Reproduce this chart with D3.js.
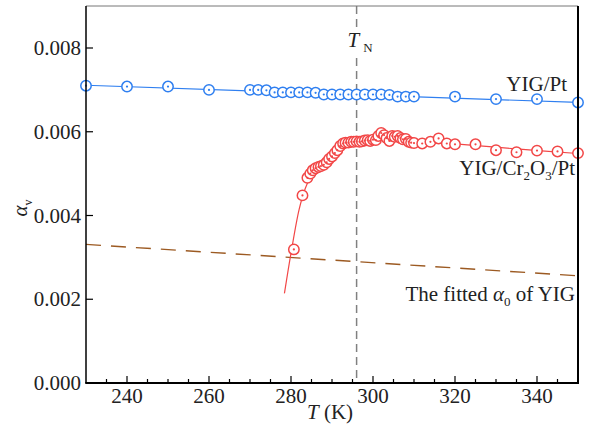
<!DOCTYPE html>
<html><head><meta charset="utf-8">
<script src="https://cdn.jsdelivr.net/npm/d3@7"></script>
<style>body{margin:0;background:#fff}svg{display:block}</style>
</head><body><svg id="c" width="590" height="428" font-family="'Liberation Serif', 'DejaVu Serif', serif"></svg>
<script>
const xTicks = [240, 260, 280, 300, 320, 340];
const xMinor = [235, 245, 250, 255, 265, 270, 275, 285, 290, 295, 305, 310, 315, 325, 330, 335, 345];
const yTicks = [0, 0.002, 0.004, 0.006, 0.008];
const yTickLabels = ["0.000", "0.002", "0.004", "0.006", "0.008"];

const ptT = [230, 240, 250, 260, 270, 272, 274, 276, 278, 280, 282, 284, 286, 288, 290, 292, 294, 296, 298, 300, 302, 304, 306, 308, 310, 320, 330, 340, 350];
const ptA = [0.00710, 0.00708, 0.00708, 0.00700, 0.00700, 0.00700, 0.00699, 0.00694, 0.00694, 0.00694, 0.00694, 0.00694, 0.00693, 0.00689, 0.00689, 0.00689, 0.00689, 0.00689, 0.00689, 0.00689, 0.00689, 0.00688, 0.00684, 0.00684, 0.00684, 0.00684, 0.00678, 0.00678, 0.00670];
const ptFitT = [230, 350];
const ptFitA = [0.00711, 0.00670];

const crT = [280.7, 282.8, 284, 284.7, 285.3, 286, 286.7, 287.3, 288, 288.7, 289.3, 290, 290.7, 291.3, 292, 292.7, 293.3, 294, 294.7, 295.3, 296, 296.7, 297.3, 298, 298.7, 299.3, 300, 300.7, 301.3, 302, 302.7, 303.3, 304, 304.7, 305.3, 306, 306.7, 307.3, 308, 308.7, 309.3, 310, 312, 314, 316, 318, 320, 325, 330, 335, 340, 345, 350];
const crA = [0.00319, 0.00448, 0.00490, 0.00500, 0.00508, 0.00513, 0.00516, 0.00518, 0.00521, 0.00527, 0.00535, 0.00541, 0.00549, 0.00556, 0.00566, 0.00572, 0.00574, 0.00574, 0.00576, 0.00576, 0.00577, 0.00576, 0.00577, 0.00579, 0.00580, 0.00578, 0.00581, 0.00580, 0.00590, 0.00597, 0.00592, 0.00585, 0.00578, 0.00590, 0.00588, 0.00590, 0.00585, 0.00582, 0.00583, 0.00576, 0.00574, 0.00573, 0.00572, 0.00576, 0.00584, 0.00572, 0.00570, 0.00570, 0.00556, 0.00551, 0.00555, 0.00553, 0.00549];
const crFitT = [278.4, 280, 282, 283.5, 285, 287, 289, 292, 296, 302, 310, 320, 335, 350];
const crFitA = [0.00214, 0.00310, 0.00415, 0.00465, 0.00496, 0.00518, 0.00535, 0.00555, 0.00572, 0.00580, 0.00578, 0.00571, 0.00559, 0.00548];

const a0T = [230, 350];
const a0A = [0.00331, 0.00256];
const TN = 296;

const svg = d3.select("#c");
const L = 86, R = 578, T = 6, B = 383;
const x = d3.scaleLinear().domain([230, 350]).range([L, R]);
const y = d3.scaleLinear().domain([0, 0.009]).range([B, B - 4.5 * 83.75]);

const blue = "#2f7ff0", red = "#f24747", brown = "#9c5a22", ink = "#222";

svg.append("defs").append("clipPath").attr("id", "clip")
  .append("rect").attr("x", L).attr("y", T - 1).attr("width", R - L).attr("height", B - T + 1);
const plot = svg.append("g").attr("clip-path", "url(#clip)");

plot.append("line").attr("x1", x(TN)).attr("x2", x(TN)).attr("y1", T).attr("y2", B)
  .attr("stroke", "#808080").attr("stroke-width", 1.5).attr("stroke-dasharray", "8,5");

const line = d3.line().x(d => x(d[0])).y(d => y(d[1]));
plot.append("path").datum(d3.zip(a0T, a0A)).attr("d", line)
  .attr("fill", "none").attr("stroke", brown).attr("stroke-width", 1.4).attr("stroke-dasharray", "15,10");

plot.append("path").datum(d3.zip(ptFitT, ptFitA)).attr("d", line)
  .attr("fill", "none").attr("stroke", blue).attr("stroke-width", 1.2);
plot.append("path").datum(d3.zip(crFitT, crFitA))
  .attr("d", d3.line().x(d => x(d[0])).y(d => y(d[1])).curve(d3.curveCatmullRom.alpha(0.5)))
  .attr("fill", "none").attr("stroke", red).attr("stroke-width", 1.2);

function pts(Ts, As, col) {
  const g = svg.append("g");
  const data = d3.zip(Ts, As);
  g.selectAll("circle.o").data(data).join("circle").attr("class", "o")
    .attr("cx", d => x(d[0])).attr("cy", d => y(d[1])).attr("r", 5.2)
    .attr("fill", "#fff").attr("stroke", col).attr("stroke-width", 1.5);
  g.selectAll("circle.d").data(data).join("circle").attr("class", "d")
    .attr("cx", d => x(d[0])).attr("cy", d => y(d[1])).attr("r", 1.1)
    .attr("fill", col);
}
pts(ptT, ptA, blue);
pts(crT, crA, red);

svg.append("line").attr("x1", L).attr("x2", R).attr("y1", T).attr("y2", T).attr("stroke", "#777").attr("stroke-width", 1);
svg.append("line").attr("x1", L).attr("x2", L).attr("y1", T).attr("y2", B).attr("stroke", "#000").attr("stroke-width", 1.5);
svg.append("line").attr("x1", R).attr("x2", R).attr("y1", T).attr("y2", B + 1).attr("stroke", "#000").attr("stroke-width", 2);
svg.append("line").attr("x1", L - 0.75).attr("x2", R + 1).attr("y1", B).attr("y2", B).attr("stroke", "#000").attr("stroke-width", 2);

const gx = svg.append("g");
gx.selectAll("line.M").data(xTicks).join("line").attr("class", "M").attr("x1", d => x(d)).attr("x2", d => x(d))
  .attr("y1", B).attr("y2", B - 7).attr("stroke", "#000").attr("stroke-width", 1.2);
gx.selectAll("line.m").data(xMinor).join("line").attr("class", "m").attr("x1", d => x(d)).attr("x2", d => x(d))
  .attr("y1", B).attr("y2", B - 4).attr("stroke", "#000").attr("stroke-width", 1.2);
gx.selectAll("text").data(xTicks).join("text").attr("x", d => x(d)).attr("y", 403)
  .attr("text-anchor", "middle").attr("font-size", 21).attr("fill", ink).text(d => d);

const gy = svg.append("g");
gy.selectAll("line").data(yTicks).join("line").attr("x1", L).attr("x2", L + 7)
  .attr("y1", d => y(d)).attr("y2", d => y(d)).attr("stroke", "#000").attr("stroke-width", 1.2);
gy.selectAll("text").data(yTicks).join("text").attr("x", 81).attr("y", d => y(d) + 7)
  .attr("text-anchor", "end").attr("font-size", 21).attr("fill", ink).text((d, i) => yTickLabels[i]);

const xt = svg.append("text").attr("x", 330).attr("y", 419).attr("text-anchor", "middle").attr("font-size", 21).attr("fill", ink);
xt.append("tspan").attr("font-style", "italic").text("T");
xt.append("tspan").text(" (K)");

const yt = svg.append("text").attr("transform", "translate(27,208) rotate(-90)").attr("text-anchor", "middle").attr("font-size", 21).attr("fill", ink);
yt.append("tspan").attr("font-style", "italic").text("α");
yt.append("tspan").attr("font-size", 12).attr("dy", 5).text("v");

svg.append("rect").attr("x", x(TN) - 10).attr("y", 27).attr("width", 28).attr("height", 28).attr("fill", "#fff");
const tn = svg.append("text").attr("x", x(TN) - 9).attr("y", 47).attr("font-size", 21).attr("fill", ink);
tn.append("tspan").attr("font-style", "italic").text("T");
tn.append("tspan").attr("font-size", 13).attr("dx", 4).attr("dy", 5).text("N");

svg.append("text").attr("x", 567).attr("y", 91).attr("text-anchor", "end").attr("font-size", 21).attr("fill", ink).text("YIG/Pt");
const cl = svg.append("text").attr("x", 575).attr("y", 175).attr("text-anchor", "end").attr("font-size", 21).attr("fill", ink);
cl.append("tspan").text("YIG/Cr");
cl.append("tspan").attr("font-size", 13).attr("dy", 5).text("2");
cl.append("tspan").attr("dy", -5).text("O");
cl.append("tspan").attr("font-size", 13).attr("dy", 5).text("3");
cl.append("tspan").attr("dy", -5).text("/Pt");
const fl = svg.append("text").attr("x", 575).attr("y", 301).attr("text-anchor", "end").attr("font-size", 21).attr("fill", ink);
fl.append("tspan").text("The fitted ");
fl.append("tspan").attr("font-style", "italic").text("α");
fl.append("tspan").attr("font-size", 13).attr("dy", 5).text("0");
fl.append("tspan").attr("dy", -5).text(" of YIG");
</script></body></html>
